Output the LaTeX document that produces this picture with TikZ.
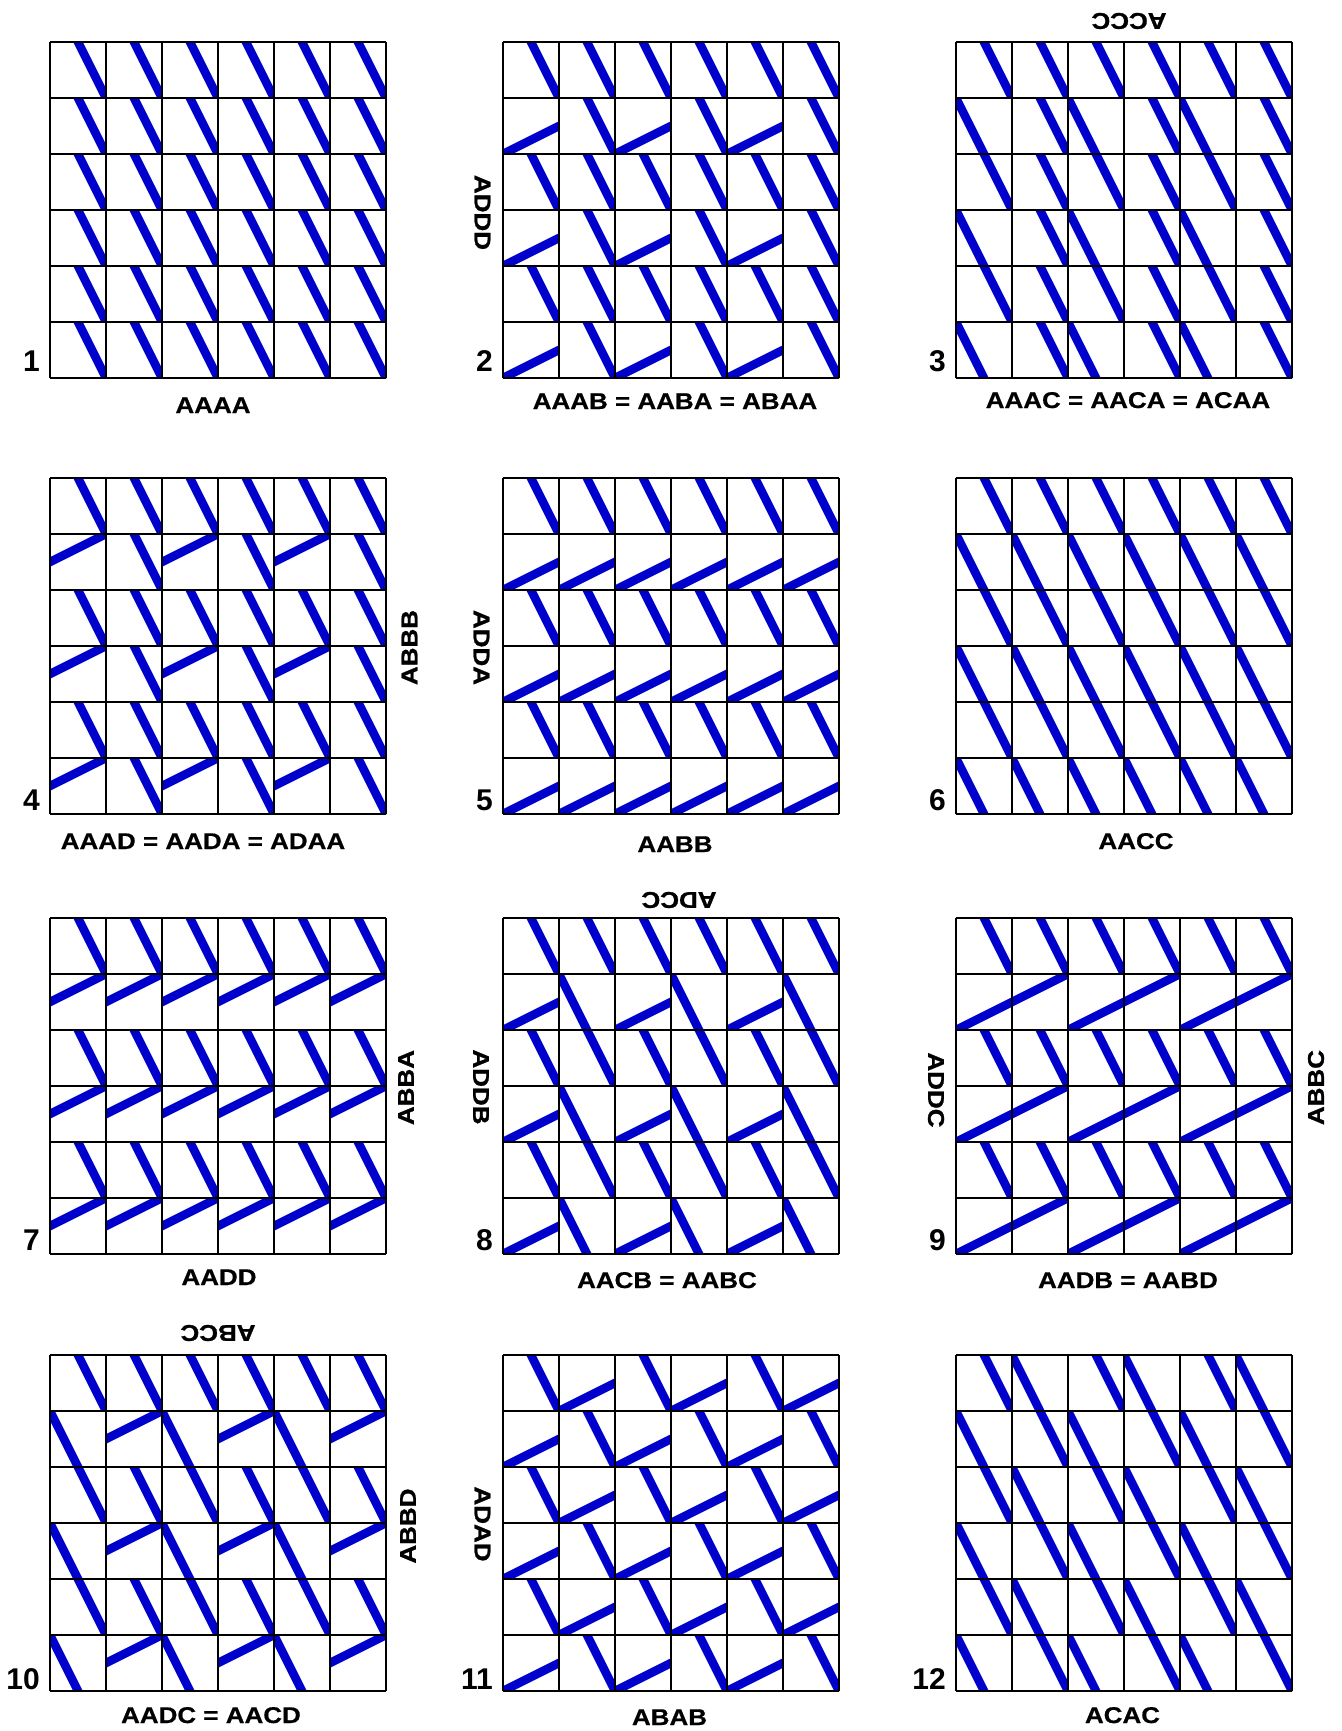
\documentclass[tikz,border=0pt]{standalone}
\usepackage{fontspec}
\setmainfont{Liberation Sans}
\newfontfamily\lblfont[FakeStretch=1.14,FakeBold=0.6]{Liberation Sans}
\newfontfamily\sidefont[FakeStretch=1.14,FakeBold=1.2]{Liberation Sans}
\definecolor{tileblue}{RGB}{0,0,204}
\tikzset{
  blueline/.style={line width=8.6pt, draw=tileblue},
  gridline/.style={line width=2pt, draw=black, line cap=square},
  lbl/.style={font=\lblfont\bfseries\fontsize{22.8}{26}\selectfont, inner sep=0pt},
  side/.style={font=\sidefont\bfseries\fontsize{22.8}{26}\selectfont, inner sep=0pt},
  num/.style={font=\bfseries\fontsize{30}{36}\selectfont, inner sep=0pt, anchor=base east},
}
\newcommand\tileA{\draw[blueline] (0.35,-0.3) -- (1.15,1.3);}
\newcommand\tileB{\draw[blueline] (-0.3,1.15) -- (1.3,0.35);}
\newcommand\tileC{\draw[blueline] (-0.15,-0.3) -- (0.65,1.3);}
\newcommand\tileD{\draw[blueline] (-0.3,0.65) -- (1.3,-0.15);}
\newcommand\placetile[3]{\begin{scope}[shift={(#1,#2)}]\clip (0,0) rectangle (1,1);\csname tile#3\endcsname\end{scope}}
\newcommand\panel[3]{%
  \begin{scope}[shift={(#1,#2)}]
  \begin{scope}[x=56pt,y=-56pt]
    \foreach \rw [count=\r from 0] in {#3} {
      \foreach \tl [count=\c from 0] in \rw {\placetile{\c}{\r}{\tl}}
    }
    \foreach \i in {0,...,6} {
      \draw[gridline] (\i,0) -- (\i,6);
      \draw[gridline] (0,\i) -- (6,\i);
    }
  \end{scope}
  \end{scope}}
\begin{document}
\begin{tikzpicture}[x=1pt,y=-1pt]
\fill[white] (0,0) rectangle (1341,1731);
\useasboundingbox (0,0) rectangle (1341,1731);
% row 1
\panel{50}{42}{{A,A,A,A,A,A},{A,A,A,A,A,A},{A,A,A,A,A,A},{A,A,A,A,A,A},{A,A,A,A,A,A},{A,A,A,A,A,A}}
\panel{503}{42}{{A,A,A,A,A,A},{B,A,B,A,B,A},{A,A,A,A,A,A},{B,A,B,A,B,A},{A,A,A,A,A,A},{B,A,B,A,B,A}}
\panel{956}{42}{{A,A,A,A,A,A},{C,A,C,A,C,A},{A,A,A,A,A,A},{C,A,C,A,C,A},{A,A,A,A,A,A},{C,A,C,A,C,A}}
% row 2
\panel{50}{478}{{A,A,A,A,A,A},{D,A,D,A,D,A},{A,A,A,A,A,A},{D,A,D,A,D,A},{A,A,A,A,A,A},{D,A,D,A,D,A}}
\panel{503}{478}{{A,A,A,A,A,A},{B,B,B,B,B,B},{A,A,A,A,A,A},{B,B,B,B,B,B},{A,A,A,A,A,A},{B,B,B,B,B,B}}
\panel{956}{478}{{A,A,A,A,A,A},{C,C,C,C,C,C},{A,A,A,A,A,A},{C,C,C,C,C,C},{A,A,A,A,A,A},{C,C,C,C,C,C}}
% row 3
\panel{50}{918}{{A,A,A,A,A,A},{D,D,D,D,D,D},{A,A,A,A,A,A},{D,D,D,D,D,D},{A,A,A,A,A,A},{D,D,D,D,D,D}}
\panel{503}{918}{{A,A,A,A,A,A},{B,C,B,C,B,C},{A,A,A,A,A,A},{B,C,B,C,B,C},{A,A,A,A,A,A},{B,C,B,C,B,C}}
\panel{956}{918}{{A,A,A,A,A,A},{B,D,B,D,B,D},{A,A,A,A,A,A},{B,D,B,D,B,D},{A,A,A,A,A,A},{B,D,B,D,B,D}}
% row 4
\panel{50}{1355}{{A,A,A,A,A,A},{C,D,C,D,C,D},{A,A,A,A,A,A},{C,D,C,D,C,D},{A,A,A,A,A,A},{C,D,C,D,C,D}}
\panel{503}{1355}{{A,B,A,B,A,B},{B,A,B,A,B,A},{A,B,A,B,A,B},{B,A,B,A,B,A},{A,B,A,B,A,B},{B,A,B,A,B,A}}
\panel{956}{1355}{{A,C,A,C,A,C},{C,A,C,A,C,A},{A,C,A,C,A,C},{C,A,C,A,C,A},{A,C,A,C,A,C},{C,A,C,A,C,A}}
% numbers
\node[num] (n1) at (40,371) {1};
\node[num] (n2) at (493,371) {2};
\node[num] (n3) at (946,371) {3};
\node[num] (n4) at (40,810) {4};
\node[num] (n5) at (493,810) {5};
\node[num] (n6) at (946,810) {6};
\node[num] (n7) at (40,1250) {7};
\node[num] (n8) at (493,1250) {8};
\node[num] (n9) at (946,1250) {9};
\node[num] (n10) at (40,1689) {10};
\node[num] (n11) at (493,1689) {11};
\node[num] (n12) at (946,1689) {12};
% bottom labels
\node[lbl, anchor=base] (b1) at (213,413) {AAAA};
\node[lbl, anchor=base] (b2) at (675,409) {AAAB = AABA = ABAA};
\node[lbl, anchor=base] (b3) at (1128,408) {AAAC = AACA = ACAA};
\node[lbl, anchor=base] (b4) at (203,849) {AAAD = AADA = ADAA};
\node[lbl, anchor=base] (b5) at (675,852) {AABB};
\node[lbl, anchor=base] (b6) at (1136,849) {AACC};
\node[lbl, anchor=base] (b7) at (219,1285) {AADD};
\node[lbl, anchor=base] (b8) at (667,1288) {AACB = AABC};
\node[lbl, anchor=base] (b9) at (1128,1288) {AADB = AABD};
\node[lbl, anchor=base] (b10) at (211,1723) {AADC = AACD};
\node[lbl, anchor=base] (b11) at (669.5,1725) {ABAB};
\node[lbl, anchor=base] (b12) at (1122.5,1723) {ACAC};
% side labels
\node[side, rotate=-90] (s2) at (482.5,212.5) {ADDD};
\node[side, rotate=180] (s3) at (1129,21) {ACCC};
\node[side, rotate=90] (s4) at (409.5,647.5) {ABBB};
\node[side, rotate=-90] (s5) at (481.5,647.5) {ADDA};
\node[side, rotate=90] (s7) at (406,1087.5) {ABBA};
\node[side, rotate=180] (s8t) at (679,900) {ADCC};
\node[side, rotate=-90] (s8l) at (481,1087) {ADDB};
\node[side, rotate=-90] (s9l) at (936,1090) {ADDC};
\node[side, rotate=90] (s9r) at (1316,1087.5) {ABBC};
\node[side, rotate=180] (s10t) at (218,1333) {ABCC};
\node[side, rotate=90] (s10r) at (408,1526) {ABBD};
\node[side, rotate=-90] (s11) at (482.5,1524) {ADAD};
\end{tikzpicture}
\end{document}
